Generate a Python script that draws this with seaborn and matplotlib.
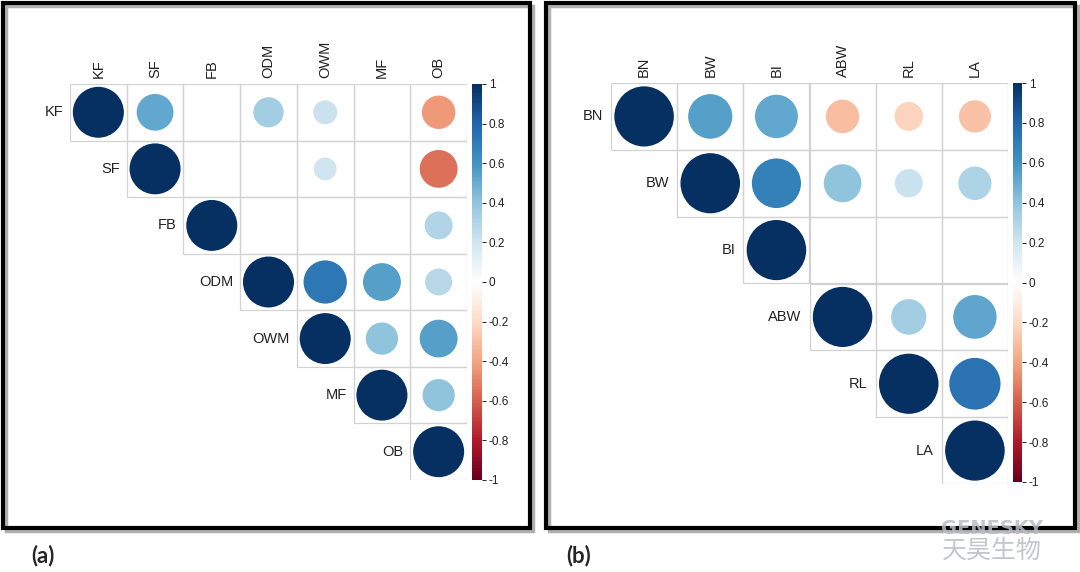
import numpy as np
import pandas as pd
import seaborn as sns
import matplotlib
matplotlib.use("Agg")
import matplotlib.pyplot as plt
from matplotlib.colors import LinearSegmentedColormap, ListedColormap, Normalize
from matplotlib.patches import Circle, Rectangle
import matplotlib.cm as cm

# ---- data (None = not significant, left blank) ----
labels_a = ["KF", "SF", "FB", "ODM", "OWM", "MF", "OB"]
corr_a = [
    [1.00, 0.52, None, 0.35, 0.22, None, -0.43],
    [None, 1.00, None, None, 0.20, None, -0.55],
    [None, None, 1.00, None, None, None, 0.30],
    [None, None, None, 1.00, 0.72, 0.55, 0.28],
    [None, None, None, None, 1.00, 0.40, 0.55],
    [None, None, None, None, None, 1.00, 0.40],
    [None, None, None, None, None, None, 1.00],
]

labels_b = ["BN", "BW", "BI", "ABW", "RL", "LA"]
corr_b = [
    [1.00, 0.55, 0.52, -0.31, -0.23, -0.29],
    [None, 1.00, 0.68, 0.40, 0.22, 0.31],
    [None, None, 1.00, None, None, None],
    [None, None, None, 1.00, 0.35, 0.53],
    [None, None, None, None, 1.00, 0.74],
    [None, None, None, None, None, 1.00],
]

cbar_ticks = [-1, -0.8, -0.6, -0.4, -0.2, 0, 0.2, 0.4, 0.6, 0.8, 1]
cbar_ticklabels = ["-1", "-0.8", "-0.6", "-0.4", "-0.2", "0", "0.2", "0.4", "0.6", "0.8", "1"]

# corrplot RdBu palette
rdbu = LinearSegmentedColormap.from_list("corr", [
    "#67001F", "#B2182B", "#D6604D", "#F4A582", "#FDDBC7", "#FFFFFF",
    "#D1E5F0", "#92C5DE", "#4393C3", "#2166AC", "#053061"])
norm = Normalize(-1, 1)

sns.set_style("white")
plt.rcParams["font.family"] = ["Liberation Sans", "DejaVu Sans"]

W, H = 1080, 572
fig = plt.figure(figsize=(W / 100, H / 100), dpi=100)


def px_axes(x0, y0, x1, y1):
    # pixel box (top-left origin) -> figure axes
    return fig.add_axes([x0 / W, 1 - y1 / H, (x1 - x0) / W, (y1 - y0) / H])


def corr_panel(labels, corr, grid_box, cbar_box):
    n = len(labels)
    df = pd.DataFrame(corr, index=labels, columns=labels, dtype=float)
    ax = px_axes(*grid_box)
    mask = np.tril(np.ones((n, n), dtype=bool), k=-1)
    sns.heatmap(np.zeros((n, n)), mask=mask, cmap=ListedColormap(["white"]),
                cbar=False, linewidths=0, ax=ax,
                xticklabels=labels, yticklabels=False)
    ax.xaxis.tick_top()
    ax.tick_params(axis="x", length=0, pad=4)
    plt.setp(ax.get_xticklabels(), rotation=90, fontsize=10.5, color="#222222")
    for i in range(n):
        ax.text(i - 0.12, i + 0.5, labels[i], ha="right", va="center",
                fontsize=10.5, color="#222222")
        for j in range(i, n):
            ax.add_patch(Rectangle((j, i), 1, 1, fill=False, edgecolor="#d2d2d2",
                                   linewidth=0.9, zorder=2))
            v = df.iloc[i, j]
            if np.isnan(v):
                continue
            ax.add_patch(Circle((j + 0.5, i + 0.5), 0.45 * np.sqrt(abs(v)),
                                facecolor=rdbu(norm(v)), edgecolor="none", zorder=3))
    ax.set_xlim(0, n)
    ax.set_ylim(n, 0)
    for s in ax.spines.values():
        s.set_visible(False)

    cax = px_axes(*cbar_box)
    cb = fig.colorbar(cm.ScalarMappable(norm=norm, cmap=rdbu), cax=cax)
    cb.outline.set_visible(False)
    cb.set_ticks(cbar_ticks)
    cb.set_ticklabels(cbar_ticklabels)
    cax.tick_params(length=3, width=0.7, pad=2, labelsize=8.5, colors="#222222")


corr_panel(labels_a, corr_a, (70, 84, 467, 480), (472, 84, 482, 480))
corr_panel(labels_b, corr_b, (611, 83, 1008, 484), (1013, 83, 1022, 482))

# panel frames with slight shadow
for x0, x1 in [(3, 530), (546, 1075)]:
    fig.patches.append(Rectangle(((x0 + 3) / W, 1 - 531 / H), (x1 - x0) / W, (528 - 3) / H,
                                 transform=fig.transFigure, fill=False,
                                 edgecolor="#b0b0b0", linewidth=2.5, zorder=0))
    fig.patches.append(Rectangle((x0 / W, 1 - 528 / H), (x1 - x0) / W, (528 - 3) / H,
                                 transform=fig.transFigure, fill=False,
                                 edgecolor="black", linewidth=3, zorder=1))

fig.text(43 / W, 1 - 556 / H, "(a)", fontsize=16, fontweight="bold",
         family=["Lato", "DejaVu Sans"], ha="center", va="center")
fig.text(579 / W, 1 - 556 / H, "(b)", fontsize=16, fontweight="bold",
         family=["Lato", "DejaVu Sans"], ha="center", va="center")

# watermark
fig.text(992 / W, 1 - 528 / H, "GENESKY", fontsize=14, fontweight="bold",
         color="#b8bcc6", alpha=0.85, ha="center", va="center",
         family=["DejaVu Sans"])
fig.text(992 / W, 1 - 551 / H, "天昊生物", fontsize=18, color="#b8bcc6", alpha=0.85,
         ha="center", va="center", family=["Noto Sans CJK SC", "DejaVu Sans"])

fig.savefig("out.png", dpi=100, facecolor="white")
